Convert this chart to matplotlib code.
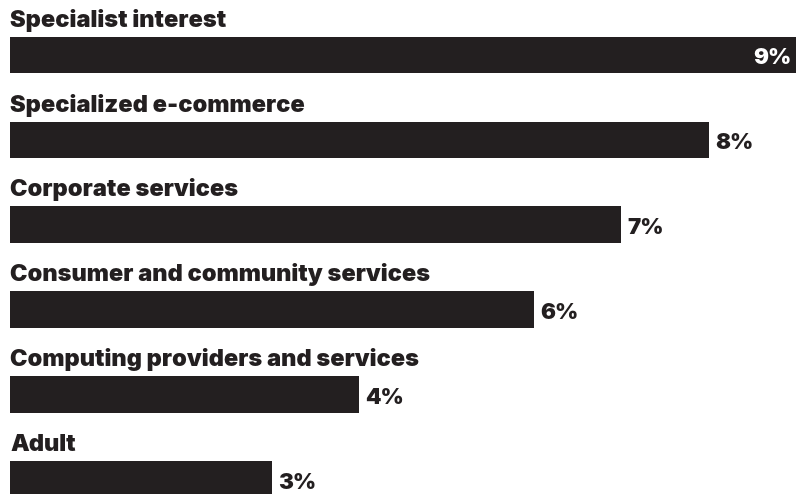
import matplotlib
matplotlib.use("Agg")
import matplotlib.pyplot as plt

categories = [
    "Specialist interest",
    "Specialized e-commerce",
    "Corporate services",
    "Consumer and community services",
    "Computing providers and services",
    "Adult",
]
values = [9, 8, 7, 6, 4, 3]
value_labels = ["9%", "8%", "7%", "6%", "4%", "3%"]

BAR_COLOR = "#231f20"
FONT = "Inter"
PX = 1 / 85.0  # one pixel in row units

fig = plt.figure(figsize=(8.01, 4.94), dpi=100)
ax = fig.add_axes([0, 0, 1, 1])
ax.set_xlim(-0.1145, 9.057)
ax.set_ylim(5.165, -0.647)
ax.axis("off")

bar_h = 0.435
cat_style = dict(fontsize=17, fontweight="black", family=FONT)
val_style = dict(fontsize=16, fontweight="black", family=FONT)
for i, (cat, v, lab) in enumerate(zip(categories, values, value_labels)):
    ax.barh(i, v, height=bar_h, left=0, color=BAR_COLOR)
    ax.text(0, i - bar_h / 2 - 10 * PX, cat, ha="left", va="baseline",
            color=BAR_COLOR, **cat_style)
    if v == max(values):
        ax.text(v - 0.05, i + 9 * PX, lab, ha="right", va="baseline",
                color="white", **val_style)
    else:
        ax.text(v + 0.07, i + 9 * PX, lab, ha="left", va="baseline",
                color=BAR_COLOR, **val_style)

fig.savefig("out.png", dpi=100)
